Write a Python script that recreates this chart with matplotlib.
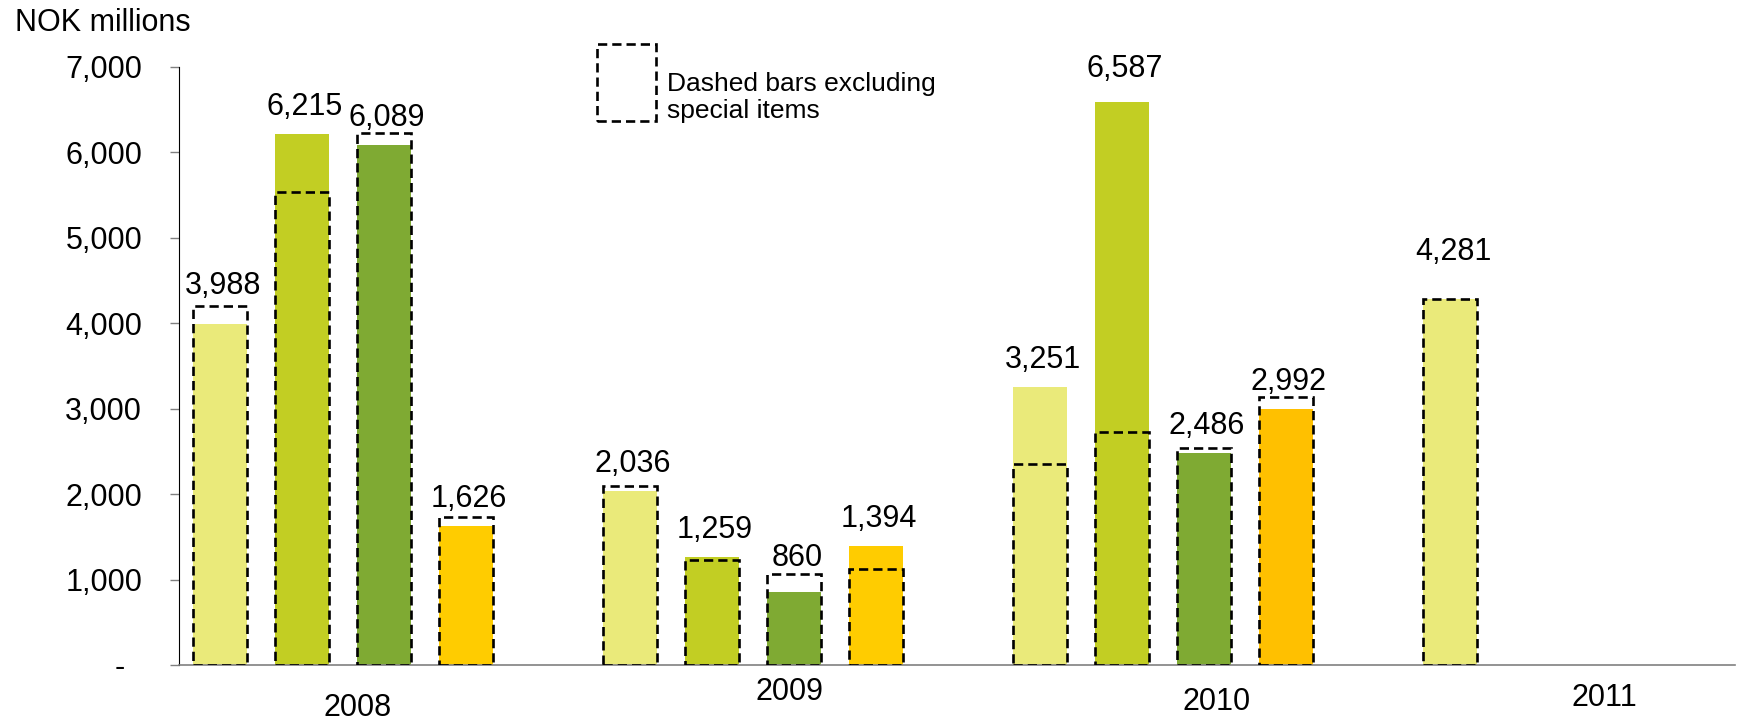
import matplotlib
matplotlib.use("Agg")
import matplotlib.pyplot as plt
import matplotlib.transforms as mtransforms
from matplotlib.patches import Rectangle
import numpy as np

plt.rcParams['font.family'] = ['Liberation Sans', 'DejaVu Sans']

# ---------------- data ----------------
years = ['2008', '2009', '2010', '2011']
quarters = ['Q1', 'Q2', 'Q3', 'Q4']
reported = {
    'Q1': [3988, 2036, 3251, 4281],
    'Q2': [6215, 1259, 6587, None],
    'Q3': [6089, 860, 2486, None],
    'Q4': [1626, 1394, 2992, None],
}
excl_special = {
    'Q1': [4202, 2095, 2353, 4281],
    'Q2': [5537, 1229, 2727, None],
    'Q3': [6230, 1065, 2540, None],
    'Q4': [1732, 1124, 3137, None],
}
yticks = [0, 1000, 2000, 3000, 4000, 5000, 6000, 7000]
ytick_labels = ['-  ', '1,000', '2,000', '3,000', '4,000', '5,000', '6,000', '7,000']
ylabel = 'NOK millions'
note_lines = ['Dashed bars excluding', 'special items']

# ---------------- style / layout ----------------
q_colors = {'Q1': '#EAEA7A', 'Q2': '#C2CE23', 'Q3': '#7FAA33', 'Q4': '#FFCC00'}
color_override = {('Q4', 2): '#FFC000'}
# label gap above the bar top (pixels), per (quarter, year index)
label_gap_px = {('Q1', 0): 30, ('Q3', 1): 26, ('Q2', 2): 25, ('Q1', 3): 39}
default_gap_px = 19
year_label_dx = [0.18, 0.44, 0.65, 0.38]
year_label_y = [-0.072, -0.045, -0.062, -0.055]
dash = (0, (3.5, 1.9))
dash_lw = 1.9
bar_w = 0.67
group_step = 5

W, H, DPI = 1739, 722, 100
fig = plt.figure(figsize=(W / DPI, H / DPI), dpi=DPI)
ax_left, ax_right = 179 / W, 1735 / W
ax_bottom, ax_top = (H - 665) / H, (H - 67) / H
ax = fig.add_axes([ax_left, ax_bottom, ax_right - ax_left, ax_top - ax_bottom])

px2pt = 72 / DPI
for qi, q in enumerate(quarters):
    for yi, yr in enumerate(years):
        v = reported[q][yi]
        if v is None:
            continue
        x = group_step * yi + qi + 0.5
        col = color_override.get((q, yi), q_colors[q])
        ax.bar(x, v, width=bar_w, color=col, edgecolor='none', zorder=2)
        e = excl_special[q][yi]
        if e is not None:
            ax.bar(x, e, width=bar_w, fill=False, edgecolor='black',
                   linestyle=dash, linewidth=dash_lw, zorder=3)
        gap = label_gap_px.get((q, yi), default_gap_px)
        ax.annotate(f'{v:,}', xy=(x, v), xytext=(3 * px2pt, gap * px2pt),
                    textcoords='offset points', ha='center', va='baseline',
                    fontsize=22, color='black', zorder=4)

ax.set_xlim(0, (1735 - 179) / 82)
ax.set_ylim(0, 7000)
ax.set_yticks(yticks)
ax.set_yticklabels(ytick_labels)
ax.set_xticks([])
ax.tick_params(axis='y', direction='out', length=6.5, width=1, color='#808080',
               labelsize=22, pad=20)
for s in ['top', 'right']:
    ax.spines[s].set_visible(False)
ax.spines['left'].set_color('black')
ax.spines['left'].set_linewidth(0.8)
ax.spines['bottom'].set_color('#808080')
ax.spines['bottom'].set_linewidth(1.2)

trans = mtransforms.blended_transform_factory(ax.transData, ax.transAxes)
for yi, yr in enumerate(years):
    ax.text(group_step * yi + 2 + year_label_dx[yi], year_label_y[yi], yr,
            transform=trans, ha='center', va='center', fontsize=22,
            clip_on=False)

fig.text(15 / W, (H - 31) / H, ylabel, ha='left', va='baseline', fontsize=22)

# note box
rect = Rectangle((597 / W, (H - 121) / H), (656 - 597) / W, (121 - 44) / H,
                 transform=fig.transFigure, fill=False, edgecolor='black',
                 linestyle=dash, linewidth=dash_lw)
fig.patches.append(rect)
fig.text(667 / W, (H - 91) / H, note_lines[0], ha='left', va='baseline', fontsize=19)
fig.text(667 / W, (H - 118) / H, note_lines[1], ha='left', va='baseline', fontsize=19)

fig.savefig('out.png', dpi=DPI)
